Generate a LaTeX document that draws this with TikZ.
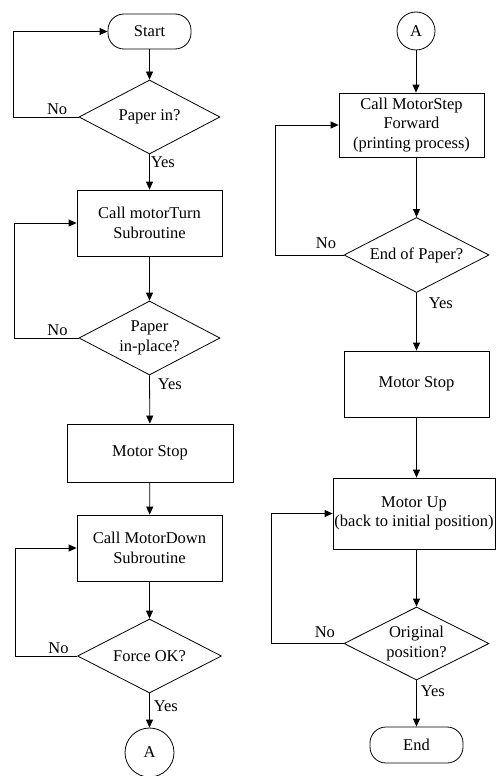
\documentclass[tikz,border=0pt]{standalone}
\usepackage{fontspec}
\setmainfont{Liberation Serif}
\usetikzlibrary{positioning, arrows.meta, shapes.geometric}

\begin{document}
\begin{tikzpicture}[x=1pt, y=-1pt]
	\tikzset{
		base/.style={draw, line width=0.8pt, inner sep=1pt, align=center, font=\fontsize{16.5}{19.5}\selectfont},
		procbox/.style={base, rectangle},
		decision/.style={base, diamond, aspect=2, inner sep=0pt},
		terminal/.style={base, rectangle, rounded corners=16pt},
		connector/.style={base, circle, inner sep=0pt},
		arr/.style={line width=0.8pt, -{Triangle[length=8pt, width=7pt]}},
		lbl/.style={font=\fontsize{16.5}{19.5}\selectfont, inner sep=2pt}
	}
	\useasboundingbox (0,0) rectangle (496,776);
	% left column
	\node[terminal, minimum width=83pt, minimum height=35pt] (start) at (149.5,31.5) {Start};
	\node[decision, minimum width=141pt, minimum height=74pt] (paperIn) at (149.5,117) {Paper in?};
	\node[procbox, minimum width=145pt, minimum height=66pt] (turn) at (149.5,223) {Call motorTurn\\Subroutine};
	\node[decision, minimum width=141pt, minimum height=74pt] (inPlace) at (149.5,338) {Paper\\in-place?};
	\node[procbox, minimum width=166pt, minimum height=58pt] (stopL) at (150,453) {Motor Stop};
	\node[procbox, minimum width=145pt, minimum height=66pt] (down) at (149.5,548) {Call MotorDown\\Subroutine};
	\node[decision, minimum width=144pt, minimum height=74pt] (force) at (149.5,656) {Force OK?};
	\node[connector, minimum size=49pt] (aL) at (149.5,752.5) {A};
	% right column
	\node[connector, minimum size=38pt] (aR) at (416,31) {A};
	\node[procbox, minimum width=145pt, minimum height=64pt] (step) at (411.5,125) {Call MotorStep\\Forward\\(printing process)};
	\node[decision, minimum width=145pt, minimum height=75pt] (endPaper) at (416.5,255) {End of Paper?};
	\node[procbox, minimum width=145pt, minimum height=66pt] (stopR) at (416.5,384) {Motor Stop};
	\node[procbox, minimum width=162pt, minimum height=71pt] (up) at (414,513.5) {Motor Up\\(back to initial position)};
	\node[decision, minimum width=145pt, minimum height=73pt] (orig) at (416.5,643.5) {Original\\position?};
	\node[terminal, minimum width=93pt, minimum height=36pt] (fin) at (416.5,745) {End};

	\draw[arr] (start) -- (paperIn);
	\draw[arr] (paperIn.south) node[lbl, below right, xshift=-1pt] {Yes} -- (turn);
	\draw[arr] (paperIn.west) -- node[lbl, above, pos=0.33] {No} ++(-65,0) |- (start.west);
	\draw[arr] (turn) -- (inPlace);
	\draw[arr] (inPlace.south) node[lbl, below right, xshift=6pt, yshift=-1pt] {Yes} -- (stopL);
	\draw[arr] (inPlace.west) -- node[lbl, above, pos=0.33] {No} ++(-64,0) |- (turn.west);
	\draw[arr] (stopL) -- (down);
	\draw[arr] (down) -- (force);
	\draw[arr] (force.south) node[lbl, below right, xshift=2pt, yshift=-5pt] {Yes} -- (aL);
	\draw[arr] (force.west) -- node[lbl, above, pos=0.3] {No} ++(-62,0) |- (down.west);

	\draw[arr] (aR) -- (aR |- step.north);
	\draw[arr] (step.south -| endPaper) -- (endPaper);
	\draw[arr] (endPaper.south) node[lbl, below right, xshift=10pt, yshift=-2pt] {Yes} -- (stopR);
	\draw[arr] (endPaper.west) -- node[lbl, above, pos=0.26, yshift=4pt] {No} ++(-68,0) |- (step.west);
	\draw[arr] (stopR) -- (stopR |- up.north);
	\draw[arr] (up.south -| orig) -- (orig);
	\draw[arr] (orig.south) node[lbl, below right, xshift=2pt, yshift=-3pt] {Yes} -- (fin);
	\draw[arr] (orig.west) -- node[lbl, above, pos=0.26, yshift=3pt] {No} ++(-72,0) |- (up.west);
\end{tikzpicture}
\end{document}
